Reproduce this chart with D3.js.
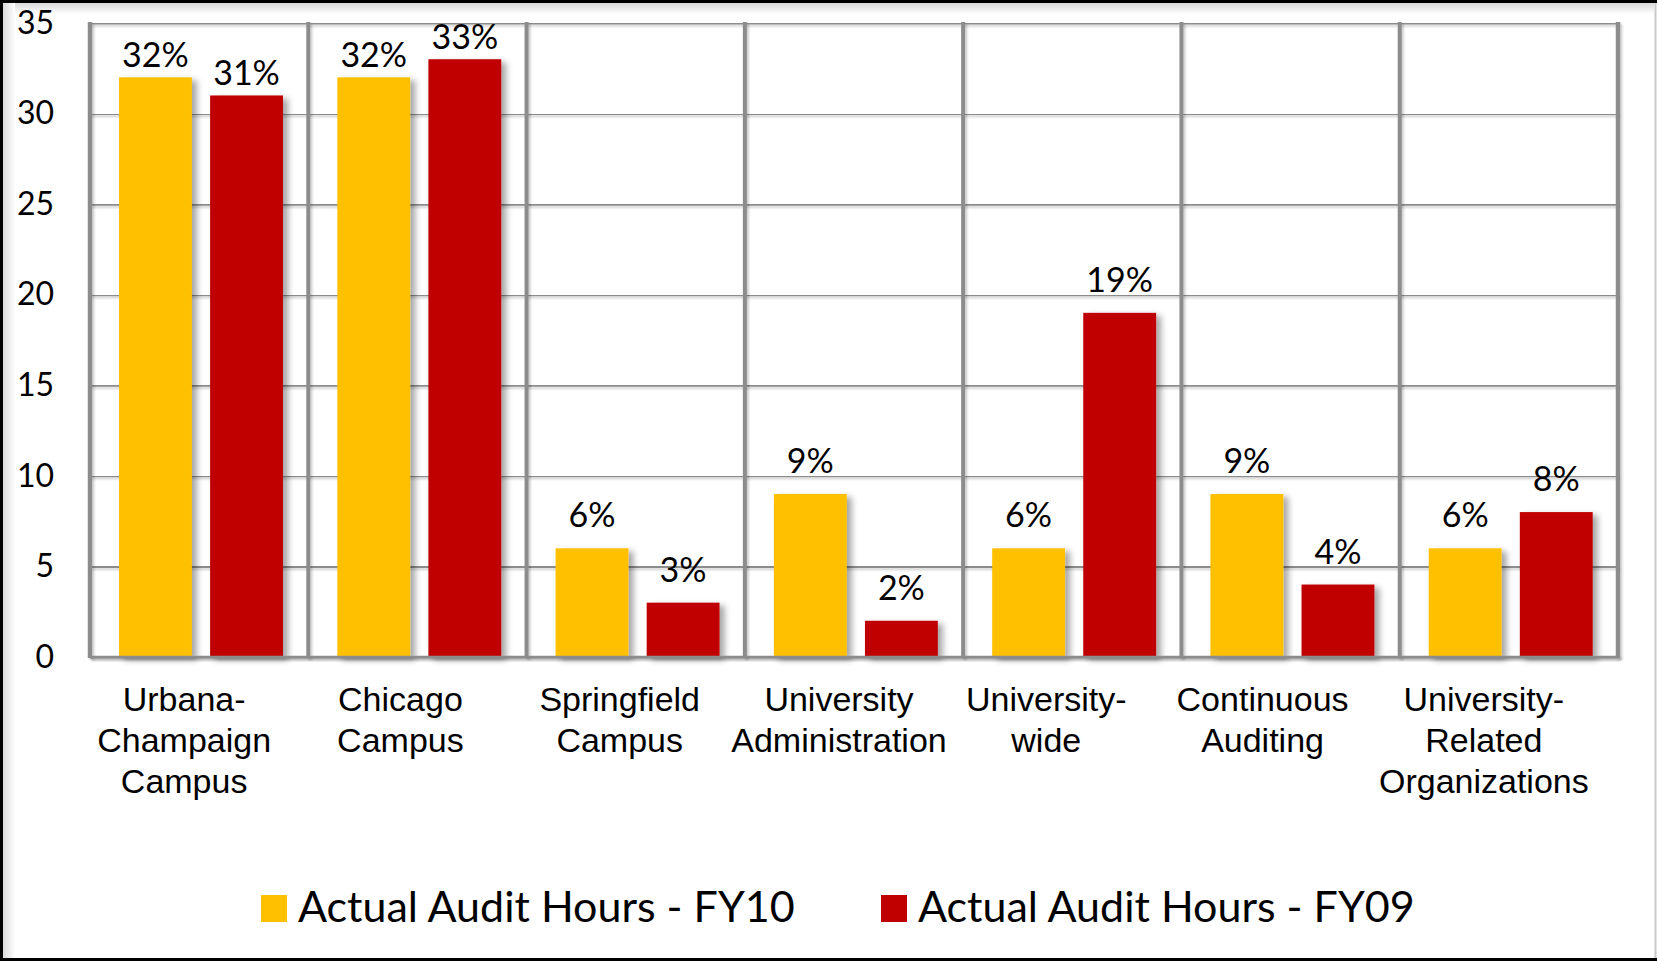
<!DOCTYPE html>
<html>
<head>
<meta charset="utf-8">
<script src="https://cdn.jsdelivr.net/npm/d3@7"></script>
<style>
  body { margin: 0; background: #fff; }
  svg { display: block; }
</style>
</head>
<body>
<div id="container"></div>
<script>
/* CONSTANTS AND GLOBALS */
const width = 1657,
  height = 961,
  margin = { top: 23, bottom: 304, left: 90, right: 39 }

/* DATA */
const categories = [
  "Urbana-\nChampaign\nCampus",
  "Chicago\nCampus",
  "Springfield\nCampus",
  "University\nAdministration",
  "University-\nwide",
  "Continuous\nAuditing",
  "University-\nRelated\nOrganizations"
]
const seriesNames = ["Actual Audit Hours - FY10", "Actual Audit Hours - FY09"]
const fy10 = [32, 32, 6, 9, 6, 9, 6]
const fy09 = [31, 33, 3, 2, 19, 4, 8]
const yTicks = [0, 5, 10, 15, 20, 25, 30, 35]
const colors = ["#FFC000", "#C00000"]

// excel nudges the wrapped category labels a bit to the left
const labelShift = [-15, -17, -16, -15, -26, -28, -25]

const calibri = "Lato, 'Open Sans', sans-serif"
const arial = "'Liberation Sans', Arial, sans-serif"

const svg = d3.select("#container")
  .append("svg")
  .attr("width", width)
  .attr("height", height)

const defs = svg.append("defs")

// soft drop shadow like the office chart
const shadow = defs.append("filter").attr("id", "shadow")
  .attr("x", "-20%").attr("y", "-20%").attr("width", "150%").attr("height", "150%")
shadow.append("feDropShadow")
  .attr("dx", 5).attr("dy", 3).attr("stdDeviation", 3)
  .attr("flood-color", "#000").attr("flood-opacity", 0.35)

// lines have a flat bbox, so the filter region has to be in user space
const lineShadow = defs.append("filter").attr("id", "lineShadow")
  .attr("filterUnits", "userSpaceOnUse")
  .attr("x", 0).attr("y", 0).attr("width", width).attr("height", height)
lineShadow.append("feDropShadow")
  .attr("dx", 2).attr("dy", 2).attr("stdDeviation", 1)
  .attr("flood-color", "#000").attr("flood-opacity", 0.2)

const gTop = defs.append("linearGradient").attr("id", "gTop").attr("x1", 0).attr("x2", 0).attr("y1", 0).attr("y2", 1)
gTop.append("stop").attr("offset", 0).attr("stop-color", "#d9d9d9")
gTop.append("stop").attr("offset", 1).attr("stop-color", "#fff")
const gLeft = defs.append("linearGradient").attr("id", "gLeft").attr("x1", 0).attr("x2", 1).attr("y1", 0).attr("y2", 0)
gLeft.append("stop").attr("offset", 0).attr("stop-color", "#d9d9d9")
gLeft.append("stop").attr("offset", 1).attr("stop-color", "#fff")

// frame around the picture
svg.append("rect").attr("x", 3).attr("y", 3).attr("width", width - 6).attr("height", 11).attr("fill", "url(#gTop)")
svg.append("rect").attr("x", 3).attr("y", 3).attr("width", 12).attr("height", height - 6).attr("fill", "url(#gLeft)")
svg.append("line").attr("x1", 0).attr("x2", width).attr("y1", 1.5).attr("y2", 1.5).attr("stroke", "#000").attr("stroke-width", 3)
svg.append("line").attr("x1", 1.5).attr("x2", 1.5).attr("y1", 0).attr("y2", height).attr("stroke", "#000").attr("stroke-width", 3)
svg.append("line").attr("x1", 0).attr("x2", width).attr("y1", height - 1.5).attr("y2", height - 1.5).attr("stroke", "#000").attr("stroke-width", 3)
svg.append("line").attr("x1", width - 1.5).attr("x2", width - 1.5).attr("y1", 3).attr("y2", height - 3).attr("stroke", "#c8c8c8").attr("stroke-width", 2)

/* SCALES */
const xScale = d3.scaleBand()
  .domain(categories)
  .range([margin.left, width - margin.right])

const xInner = d3.scaleBand()
  .domain(seriesNames)
  .range([xScale.bandwidth() * 0.133, xScale.bandwidth() * 0.884])
  .paddingInner(0.2)

const yScale = d3.scaleLinear()
  .domain([0, 35])
  .range([height - margin.bottom, margin.top])

const colorScale = d3.scaleOrdinal()
  .domain(seriesNames)
  .range(colors)

/* GRID + Y AXIS */
const yAxis = d3.axisLeft(yScale)
  .tickValues(yTicks)
  .tickSize(-(width - margin.left - margin.right))
  .tickPadding(36)

svg.append("g")
  .attr("class", "y-axis")
  .attr("transform", `translate(${margin.left}, 0)`)
  .call(yAxis)
  .call(g => g.select(".domain").remove())
  .call(g => g.selectAll(".tick line")
    .attr("stroke", "#8c8c8c")
    .attr("stroke-width", 2)
    .attr("filter", "url(#lineShadow)"))
  .call(g => g.selectAll(".tick text")
    .attr("fill", "#000")
    .attr("font-family", calibri)
    .attr("font-size", 32))

// category separators
const bounds = categories.map(c => xScale(c)).concat([width - margin.right])
svg.append("g")
  .selectAll("line")
  .data(bounds)
  .join("line")
  .attr("x1", d => d).attr("x2", d => d)
  .attr("y1", yScale(35) - 1).attr("y2", yScale(0) + 1)
  .attr("stroke", "#8c8c8c")
  .attr("stroke-width", (d, i) => i === 0 || i === bounds.length - 1 ? 4.5 : 4)
  .attr("filter", "url(#lineShadow)")

/* BARS */
const series = seriesNames.map((name, s) => ({
  name,
  values: (s === 0 ? fy10 : fy09).map((v, i) => ({ cat: categories[i], value: v, name }))
}))

const groups = svg.append("g")
  .selectAll("g.series")
  .data(series)
  .join("g")
  .attr("class", "series")

groups.selectAll("rect")
  .data(d => d.values)
  .join("rect")
  .attr("x", d => xScale(d.cat) + xInner(d.name))
  .attr("y", d => yScale(d.value))
  .attr("width", xInner.bandwidth())
  .attr("height", d => yScale(0) - yScale(d.value))
  .attr("fill", d => colorScale(d.name))
  .attr("filter", "url(#shadow)")

// baseline over the bar bottoms
svg.append("line")
  .attr("x1", margin.left).attr("x2", width - margin.right + 2)
  .attr("y1", yScale(0)).attr("y2", yScale(0))
  .attr("stroke", "#8c8c8c")
  .attr("stroke-width", 2.5)
  .attr("filter", "url(#lineShadow)")

// value labels (the tall ones get squeezed closer to the bar near the top)
groups.selectAll("text")
  .data(d => d.values)
  .join("text")
  .attr("x", d => xScale(d.cat) + xInner(d.name) + xInner.bandwidth() / 2)
  .attr("y", d => yScale(d.value) - (d.value > 25 ? 10 : 21))
  .attr("text-anchor", "middle")
  .attr("font-family", calibri)
  .attr("font-size", 34)
  .attr("fill", "#000")
  .text(d => d.value + "%")

/* CATEGORY LABELS */
svg.append("g")
  .selectAll("text")
  .data(categories)
  .join("text")
  .attr("y", 711)
  .attr("text-anchor", "middle")
  .attr("font-family", arial)
  .attr("font-size", 34)
  .attr("fill", "#000")
  .each(function (d, k) {
    const t = d3.select(this)
    const cx = xScale(d) + xScale.bandwidth() / 2 + labelShift[k]
    d.split("\n").forEach((line, i) => {
      t.append("tspan")
        .attr("x", cx)
        .attr("dy", i === 0 ? 0 : 41)
        .text(line)
    })
  })

/* LEGEND */
const legendX = [261, 881]
const legend = svg.append("g")
  .selectAll("g")
  .data(seriesNames)
  .join("g")
  .attr("transform", (d, i) => `translate(${legendX[i]}, 895)`)

legend.append("rect")
  .attr("width", 26).attr("height", 27)
  .attr("fill", d => colorScale(d))

legend.append("text")
  .attr("x", 37)
  .attr("y", 27)
  .attr("font-family", calibri)
  .attr("font-size", 43)
  .attr("fill", "#000")
  .text(d => d)
</script>
</body>
</html>
